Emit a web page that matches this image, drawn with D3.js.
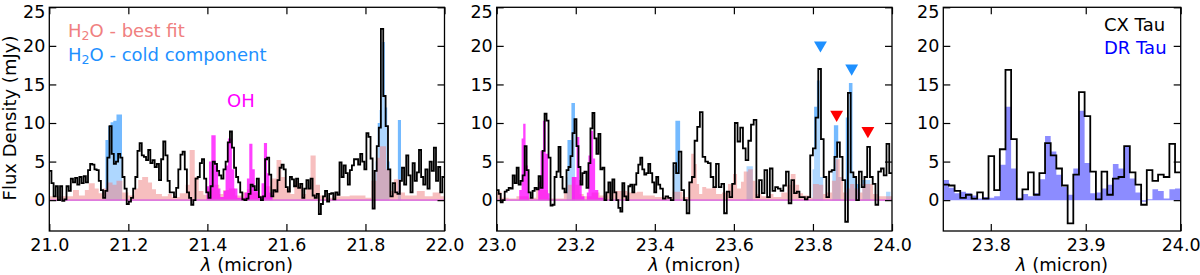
<!DOCTYPE html>
<html><head><meta charset="utf-8">
<script src="https://cdn.jsdelivr.net/npm/d3@7"></script>
<style>body{margin:0;background:#fff} svg{display:block} text{font-family:"DejaVu Sans",sans-serif}</style>
</head><body><svg id="c" width="1200" height="275"></svg>
<script>
// ---------------- DATA ----------------
// Panel 1 (21-22 micron): observed CX Tau spectrum (mJy), one value per bin
const obs1 = [3.8,2.2,0.5,1.8,0,1.8,-0.1,0.1,1.8,1.2,
2.8,2.3,2.9,2.0,3.0,2.2,3.1,2.3,3.9,4.7,
4.6,4.0,3.9,2.5,1.3,0.3,1.2,5.5,9.6,6.0,
4.7,5.0,6.0,5.5,3.0,1.5,-0.5,-0.2,0.3,1.5,
3.0,6.4,7.4,5.8,5.6,5.2,6.5,4.8,5.2,4.3,
4.7,2.6,5.3,7.6,5.8,2.5,1.0,1.0,0.4,1.6,
4.0,5.9,6.3,4.0,1.0,0.3,-0.6,0.0,2.8,3.0,
4.8,5.3,2.8,1.0,0.3,1.8,5.0,4.7,3.8,3.2,
2.8,4.0,5.0,7.5,8.9,6.8,4.2,3.0,2.3,1.0,
0.1,0.0,0.2,0.8,2.0,1.8,1.3,2.8,0.4,0.0,
0.5,5.3,5.5,3.3,0.5,1.3,1.1,2.6,4.2,4.6,
4.0,1.7,1.1,3.0,2.7,1.8,2.8,1.6,2.1,0.3,
1.5,2.6,1.5,2.8,0.6,0.3,0.8,-1.8,-0.5,0.5,
1.2,-0.2,0.8,0.9,0.1,1.0,0.7,4.9,3.0,4.5,
3.5,2.0,3.9,4.5,5.3,5.3,4.6,6.0,5.0,4.0,
8.7,8.2,5.4,-1.1,3.8,7.0,9.4,22.2,13.5,9.6,
4.0,0.5,2.2,1.0,0.8,
2.5,4.2,2.0,5.8,3.2,1.0,4.8,2.5,3.6,6.5,3.0,2.0,4.0,1.5,5.0,3.8,6.8,2.5,4.3,1.0,3.0];
// bin index -> wavelength anchors for panel 1
const obs1Knots = [[0,21.0],[84,21.457],[157,21.839],[165,21.887],[186,22.0]];

// Panel 2 (23-24 micron)
const obs2 = [1.3,0.8,-0.3,0.0,1.1,1.3,1.6,1.5,3.2,2.2,
4.2,2.0,2.5,3.2,7.0,3.9,1.0,0.3,1.2,1.6,
1.4,3.1,1.6,6.4,11.2,10.3,5.5,-0.7,-0.6,3.0,
3.7,6.9,3.0,1.5,1.0,3.9,4.3,5.7,8.7,10.5,
7.0,4.3,2.0,3.5,3.7,1.6,4.8,9.3,11.3,8.0,
6.0,8.6,4.0,4.2,0.0,1.0,2.3,0.0,2.7,1.0,
0.0,-1.0,-1.5,2.2,0.5,0.0,1.8,2.0,1.0,2.0,
3.5,4.6,5.5,4.0,3.3,3.5,4.7,3.5,2.3,1.0,
3.0,2.0,
1.5,0.2,0.5,0.3,0.0,4.8,3.5,6.3,1.3,0.0,
-1.7,2.3,3.0,7.7,9.5,11.4,5.6,5.0,4.8,3.0,
1.7,4.7,1.7,2.1,-1.7,1.1,0.4,2.1,
10.0,7.6,9.4,6.7,5.2,7.7,9.8,10.4,
0.4,2.6,0.9,3.9,0.4,4.1,1.2,1.7,1.5,1.2,1.9,3.7,-0.4,2.6,0.9,1.1,0.4,0.4,0.1,0.4,
5.8,6.7,10.7,17.0,7.9,3.0,0.4,3.7,3.9,5.6,7.5,5.6,2.6,-2.8,13.9,3.6,3.0,0.0,3.7,1.7,3.0,6.9,3.0,2.1,-0.6,3.7,4.1,3.2,7.3,3.5];
const obs2Knots = [[0,23.0],[82,23.4137],[97,23.514],[141,23.8135],[152,23.8885],[168,24.0]];

// Panel 3 (23.75-24 micron): CX Tau and DR Tau
const obs3 = [2.0,1.9,1.2,0.3,0.7,0.2,1.0,0.2,5.7,1.3,6.6,16.9,7.9,0.1,1.4,3.6,0.7,3.5,7.4,5.8,4.1,1.9,-3.0,3.3,14.0,10.9,3.7,0.1,3.7,0.7,2.8,3.0,7.0,3.6,2.0,-0.6,3.9,2.5,3.3,3.0,7.3,3.6];
const drTau3 = [2.6,1.6,0.9,1.1,0.9,0.6,0.2,0.4,0.3,0.5,4.6,12.1,4.1,0.3,0.8,0.5,0.9,2.7,8.3,6.3,3.3,1.7,0.7,4.1,11.6,4.8,0.9,1.0,1.5,2.0,4.7,4.1,7.0,2.8,1.0,-0.2,0.1,1.4,1.2,0.2,1.4,1.5];
const obs3Knots = [[0,23.75],[42,24.0]];

// Model components: [wavelength where step starts, flux]
const fit1 = [[21.0,0.5],[21.06,1.3],[21.075,0.6],[21.09,1.3],[21.1,2.2],[21.115,1.5],[21.125,0.9],[21.135,1.5],[21.145,2.3],[21.16,2.0],[21.17,2.5],[21.185,1.0],[21.2,0.6],[21.215,1.5],[21.225,2.6],[21.235,3.0],[21.25,2.3],[21.26,1.4],[21.27,0.8],[21.285,0.5],[21.3,0.8],[21.31,0.4],[21.33,0.9],[21.345,2.0],[21.355,6.5],[21.368,3.0],[21.378,1.2],[21.39,0.7],[21.4,1.5],[21.415,2.0],[21.43,0.8],[21.44,1.3],[21.455,1.5],[21.47,0.6],[21.49,1.0],[21.5,1.4],[21.515,1.0],[21.53,0.6],[21.545,1.8],[21.56,2.8],[21.575,5.2],[21.587,3.0],[21.597,1.5],[21.61,0.8],[21.62,2.5],[21.63,1.8],[21.64,0.8],[21.65,1.5],[21.661,5.8],[21.674,2.0],[21.685,0.6],[21.7,0.3],[21.72,0.5],[21.76,0.6],[21.8,0.3],[21.815,2.5],[21.828,5.5],[21.836,7.0],[21.852,4.0],[21.862,1.2],[21.872,2.7],[21.89,1.0],[21.9,0.6],[21.93,1.2],[21.95,0.5],[21.97,1.0],[21.99,0.5],[22.0,0]];
const cold1 = [[21.14,0],[21.142,7.8],[21.149,9.6],[21.155,10.1],[21.162,10.3],[21.17,11.1],[21.184,0],[21.824,0],[21.826,5.0],[21.831,10.0],[21.836,11.7],[21.841,20.5],[21.849,12.0],[21.855,5.0],[21.861,0],[21.882,10.4],[21.89,0]];
const oh1 = [[21.398,1.8],[21.404,5.0],[21.41,8.4],[21.421,4.5],[21.427,1.5],[21.433,0.4],[21.441,1.2],[21.446,4.5],[21.452,8.0],[21.462,4.0],[21.468,1.5],[21.476,0.3],[21.494,1.0],[21.5,2.8],[21.506,7.3],[21.514,4.0],[21.52,1.2],[21.528,0.4],[21.537,2.2],[21.543,7.4],[21.551,3.5],[21.557,1.0],[21.565,0]];

const fit2 = [[23.0,1.1],[23.012,0.3],[23.03,0.2],[23.05,0.5],[23.08,0.3],[23.1,1.3],[23.13,0.2],[23.17,1.0],[23.18,2.0],[23.19,3.0],[23.2,2.0],[23.21,0.8],[23.22,0.5],[23.24,1.0],[23.26,0.6],[23.28,1.0],[23.3,1.2],[23.33,1.0],[23.355,1.1],[23.37,0.6],[23.4,0.4],[23.42,0.4],[23.445,1.1],[23.47,0.4],[23.485,2.4],[23.492,6.0],[23.499,4.7],[23.506,2.1],[23.512,0.8],[23.52,1.7],[23.53,1.5],[23.545,1.7],[23.555,0.8],[23.57,1.0],[23.585,2.1],[23.598,3.4],[23.608,1.5],[23.618,2.4],[23.625,3.7],[23.636,4.0],[23.648,2.5],[23.655,0.8],[23.67,0.5],[23.69,0.8],[23.7,0.4],[23.72,1.0],[23.735,2.0],[23.744,3.4],[23.756,2.0],[23.765,0.9],[23.775,0.6],[23.79,0.3],[23.8,2.1],[23.815,2.0],[23.826,0.8],[23.835,1.0],[23.848,2.5],[23.858,5.3],[23.868,3.0],[23.876,1.0],[23.885,1.5],[23.894,2.1],[23.905,1.5],[23.915,1.0],[23.925,2.1],[23.94,2.1],[23.952,0.8],[23.965,0.5],[24.0,0]];
const cold2 = [[23.177,3.0],[23.179,7.8],[23.189,12.6],[23.198,0],[23.447,4.5],[23.452,10.3],[23.464,0],[23.632,4.4],[23.648,0],[23.799,4.0],[23.803,12.1],[23.81,15.5],[23.818,3.0],[23.826,0],[23.849,4.0],[23.853,9.7],[23.864,3.0],[23.87,0],[23.883,10.7],[23.891,15.2],[23.9,3.0],[23.908,2.1],[23.92,0],[23.925,2.6],[23.945,0],[23.985,1.1],[23.996,0]];
const oh2 = [[23.057,1.3],[23.063,8.0],[23.067,9.9],[23.073,4.5],[23.079,1.1],[23.082,0],[23.105,2.4],[23.111,6.4],[23.117,10.3],[23.124,6.0],[23.13,0.9],[23.134,0],[23.19,3.0],[23.202,8.2],[23.209,2.6],[23.215,0.5],[23.222,0],[23.228,1.0],[23.232,5.8],[23.238,9.0],[23.244,5.4],[23.249,1.3],[23.257,0.3],[23.27,0]];

// markers (wavelength, flux)
const markBlue = [[23.819,20.1],[23.898,17.1]];
const markRed = [[23.860,11.1],[23.939,9.0]];

// tick labels
const xTicks1 = [21.0,21.2,21.4,21.6,21.8,22.0];
const xTicks2 = [23.0,23.2,23.4,23.6,23.8,24.0];
const xTicks3 = [23.8,23.9,24.0];
const yTicks = [0,5,10,15,20,25];

// ---------------- DRAW ----------------
(function(){
const svg = d3.select("#c");
const yTop = 7.3, yBot = 231;
const y = d3.scaleLinear().domain([-4,25]).range([yBot, yTop]);

const C = {fit:"#f08080", cold:"#1e90ff", oh:"#ff00ff", dr:"#0000ff"};

function edgesFrom(n, knots){
  const s = d3.scaleLinear().domain(knots.map(k=>k[0])).range(knots.map(k=>k[1]));
  return d3.range(n+1).map(s);
}
function stepPts(vals, edges){
  const p = vals.map((v,i)=>[edges[i], v]);
  p.push([edges[vals.length], vals[vals.length-1]]);
  return p;
}

function panel(cfg){
  const x = d3.scaleLinear().domain(cfg.dom).range([cfg.x0, cfg.x1]);
  const g = svg.append("g");
  const id = "clip"+cfg.id;
  svg.append("clipPath").attr("id",id).append("rect")
    .attr("x",cfg.x0).attr("y",yTop).attr("width",cfg.x1-cfg.x0).attr("height",yBot-yTop);
  const pg = g.append("g").attr("clip-path",`url(#${id})`);
  const area = d3.area().x(d=>x(d[0])).y0(y(0)).y1(d=>y(d[1])).curve(d3.curveStepAfter);
  const line = d3.line().x(d=>x(d[0])).y(d=>y(d[1])).curve(d3.curveStepAfter);
  const obsPts = stepPts(cfg.obs, edgesFrom(cfg.obs.length, cfg.knots));

  if (cfg.cold) pg.append("path").attr("d", area(cfg.cold)).attr("fill", C.cold).attr("fill-opacity",0.62);
  if (cfg.cold) pg.append("path").attr("d", area(obsPts)).attr("fill", "#fff").attr("fill-opacity",0.42);
  if (cfg.fit) pg.append("path").attr("d", area(cfg.fit)).attr("fill", C.fit).attr("fill-opacity",0.5);
  if (cfg.oh) pg.append("path").attr("d", area(cfg.oh)).attr("fill", C.oh).attr("fill-opacity",0.75);
  if (cfg.dr) pg.append("path").attr("d", area(stepPts(cfg.dr, edgesFrom(cfg.dr.length, cfg.knots))))
      .attr("fill", C.dr).attr("fill-opacity",0.45);
  if (cfg.oh) pg.append("line").attr("x1",cfg.x0).attr("x2",cfg.x1).attr("y1",y(0)).attr("y2",y(0))
      .attr("stroke","#d966d9").attr("stroke-width",1.6).attr("stroke-opacity",0.85);
  pg.append("path").attr("d", line(obsPts)).attr("fill","none").attr("stroke","#000")
    .attr("stroke-width",1.8).attr("stroke-linejoin","miter");

  const fmt = d3.format(".1f");
  const ax = (sel)=>sel.attr("font-size",17.5).attr("font-family","DejaVu Sans");
  const gb = g.append("g").attr("transform",`translate(0,${yBot})`)
    .call(d3.axisBottom(x).tickValues(cfg.ticks).tickFormat(fmt).tickSize(-7).tickPadding(7.6)).call(ax);
  const gt = g.append("g").attr("transform",`translate(0,${yTop})`)
    .call(d3.axisTop(x).tickValues(cfg.ticks).tickFormat("").tickSize(-7));
  const gl = g.append("g").attr("transform",`translate(${cfg.x0},0)`)
    .call(d3.axisLeft(y).tickValues(yTicks).tickSize(-7).tickPadding(4)).call(ax);
  // keep the top label ("25") inside the picture
  gl.selectAll(".tick text").filter(d=>d===25).attr("dy","0.56em");
  const gr = g.append("g").attr("transform",`translate(${cfg.x1},0)`)
    .call(d3.axisRight(y).tickValues(yTicks).tickFormat("").tickSize(-7));
  [gb,gt,gl,gr].forEach(a=>{a.select(".domain").remove(); a.selectAll("line").attr("stroke","#000").attr("stroke-width",1.2); a.selectAll("text").attr("fill","#000");});
  g.append("rect").attr("x",cfg.x0).attr("y",yTop).attr("width",cfg.x1-cfg.x0).attr("height",yBot-yTop)
    .attr("fill","none").attr("stroke","#000").attr("stroke-width",1.3);

  const xl = g.append("text").attr("x",(cfg.x0+cfg.x1)/2).attr("y",271).attr("text-anchor","middle").attr("font-size",18);
  xl.append("tspan").attr("font-style","italic").text("λ");
  xl.append("tspan").text(" (micron)");
  return x;
}

panel({id:1, x0:49.3, x1:444.5, dom:[21,22], ticks:xTicks1, obs:obs1, knots:obs1Knots, fit:fit1, cold:cold1, oh:oh1});
const x2 = panel({id:2, x0:496.7, x1:892, dom:[23,24], ticks:xTicks2, obs:obs2, knots:obs2Knots, fit:fit2, cold:cold2, oh:oh2});
panel({id:3, x0:943.3, x1:1180.7, dom:[23.75,24], ticks:xTicks3, obs:obs3, knots:obs3Knots, dr:drTau3});

const tri = d3.symbol().type(d3.symbolTriangle).size(72);
svg.selectAll(".mb").data(markBlue).join("path").attr("d",tri)
  .attr("transform",d=>`translate(${x2(d[0])},${y(d[1])}) rotate(180)`).attr("fill",C.cold);
svg.selectAll(".mr").data(markRed).join("path").attr("d",tri)
  .attr("transform",d=>`translate(${x2(d[0])},${y(d[1])}) rotate(180)`).attr("fill","#ff0000");

svg.append("text").attr("transform","translate(15.5,118) rotate(-90)").attr("text-anchor","middle")
  .attr("font-size",18).text("Flux Density (mJy)");

function h2o(xp, yp, color, rest){
  const t = svg.append("text").attr("x",xp).attr("y",yp).attr("fill",color).attr("font-size",18);
  t.append("tspan").text("H");
  t.append("tspan").attr("font-size",12.6).attr("dy",3.5).text("2");
  t.append("tspan").attr("dy",-3.5).text(rest);
}
h2o(68, 36.5, C.fit, "O - best fit");
h2o(68, 60.5, C.cold, "O - cold component");
svg.append("text").attr("x",227).attr("y",107).attr("fill",C.oh).attr("font-size",18).text("OH");
svg.append("text").attr("x",1104).attr("y",31).attr("fill","#000").attr("font-size",18).text("CX Tau");
svg.append("text").attr("x",1104).attr("y",53.5).attr("fill",C.dr).attr("font-size",18).text("DR Tau");
})();
</script></body></html>
